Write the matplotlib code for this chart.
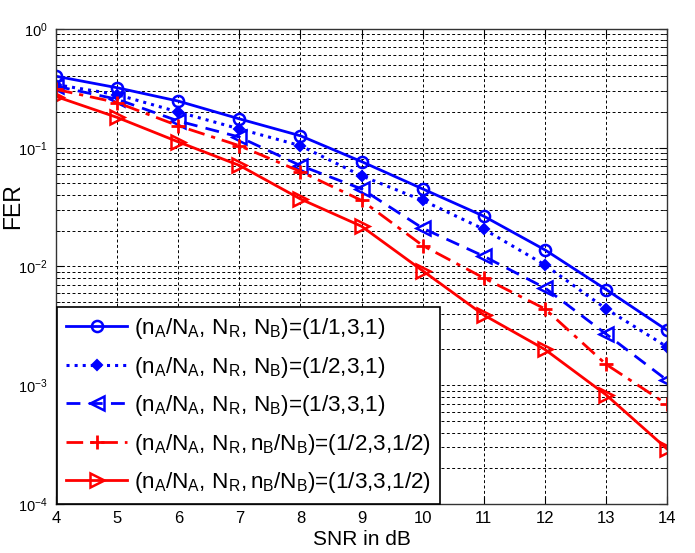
import numpy as np
import matplotlib
matplotlib.use('Agg')
import matplotlib.pyplot as plt
from matplotlib.ticker import LogLocator, NullFormatter

# SNR points (dB)
snr = [4, 5, 6, 7, 8, 9, 10, 11, 12, 13, 14]

# FER values
fer_111 = [0.40, 0.32, 0.247, 0.175, 0.126, 0.0764, 0.045, 0.0265, 0.0138, 0.0064, 0.0029]
fer_121 = [0.34, 0.28, 0.20, 0.144, 0.104, 0.058, 0.036, 0.0206, 0.0103, 0.0044, 0.0021]
fer_131 = [0.33, 0.256, 0.168, 0.123, 0.0707, 0.045, 0.021, 0.0122, 0.0066, 0.0027, 0.0011]
fer_1232 = [0.31, 0.24, 0.153, 0.104, 0.063, 0.036, 0.015, 0.0080, 0.0044, 0.0015, 0.00069]
fer_1332 = [0.27, 0.18, 0.112, 0.071, 0.037, 0.0218, 0.0092, 0.0039, 0.0020, 0.00083, 0.00029]

labels = [
    r'$(n_A/N_{A},\, N_R,\, N_B)$=(1/1,3,1)',
    r'$(n_A/N_{A},\, N_R,\, N_B)$=(1/2,3,1)',
    r'$(n_A/N_{A},\, N_R,\, N_B)$=(1/3,3,1)',
    r'$(n_A/N_{A},\, N_R, n_B/N_B)$=(1/2,3,1/2)',
    r'$(n_A/N_{A},\, N_R, n_B/N_B)$=(1/3,3,1/2)',
]

plt.rcParams.update({
    'font.family': 'Liberation Sans',
    'mathtext.fontset': 'custom',
    'mathtext.rm': 'Liberation Sans',
    'mathtext.it': 'Liberation Sans',
    'mathtext.bf': 'Liberation Sans:bold',
})

fig = plt.figure(figsize=(6.95, 5.53), dpi=100)
ax = fig.add_axes([0.0806, 0.0886, 0.8794, 0.859])

blue = '#0000ff'
red = '#ff0000'
ax.plot(snr, fer_111, color=blue, linestyle='-', linewidth=2, marker='o',
        markersize=8, markerfacecolor='none', markeredgewidth=1.8, label=labels[0])
ax.plot(snr, fer_121, color=blue, linestyle=':', linewidth=2.2, marker='D',
        markersize=5, markerfacecolor=blue, markeredgewidth=1.5, label=labels[1])
ax.plot(snr, fer_131, color=blue, linestyle=(0, (5, 3)), linewidth=2, marker='<',
        markersize=10, markerfacecolor='none', markeredgewidth=1.8, label=labels[2])
ax.plot(snr, fer_1232, color=red, linestyle=(0, (6, 2.5, 1.5, 2.5)), linewidth=2, marker='+',
        markersize=10, markeredgewidth=2, label=labels[3])
ax.plot(snr, fer_1332, color=red, linestyle='-', linewidth=2, marker='>',
        markersize=10, markerfacecolor='none', markeredgewidth=1.8, label=labels[4])

ax.set_yscale('log')
ax.set_xlim(4, 14)
ax.set_ylim(1e-4, 1)
ax.set_xticks(snr)
ax.yaxis.set_major_locator(LogLocator(base=10, numticks=10))
ax.yaxis.set_minor_locator(LogLocator(base=10, subs=np.arange(2, 10), numticks=50))
ax.yaxis.set_minor_formatter(NullFormatter())

grid_style = dict(color='black', linestyle=(0, (3, 2.5)), linewidth=0.7)
ax.grid(True, which='major', axis='both', **grid_style)
ax.grid(True, which='minor', axis='y', **grid_style)

ax.tick_params(which='both', direction='in', top=True, right=True)
ax.tick_params(which='major', length=6)
ax.tick_params(which='minor', length=3)
ax.tick_params(axis='x', pad=5, labelsize=12)
ax.tick_params(axis='y', pad=6, labelsize=10.5)
for s in ax.spines.values():
    s.set_linewidth(1.0)
    s.set_color('#333333')

ax.set_xlabel('SNR in dB', fontsize=15)
ax.xaxis.set_label_coords(0.5, -26.0 / 475)
ax.set_ylabel('FER', fontsize=16.5)
ax.yaxis.set_label_coords(-0.052, 0.627)

leg = ax.legend(loc='lower left', bbox_to_anchor=(0.002, 0.0), borderaxespad=0,
                fontsize=16.2, handlelength=2.7, labelspacing=0.6, fancybox=False,
                framealpha=1, edgecolor='black', handletextpad=0.3, borderpad=0.4)
leg.get_frame().set_linewidth(1.2)

fig.savefig('out.png', dpi=100)
